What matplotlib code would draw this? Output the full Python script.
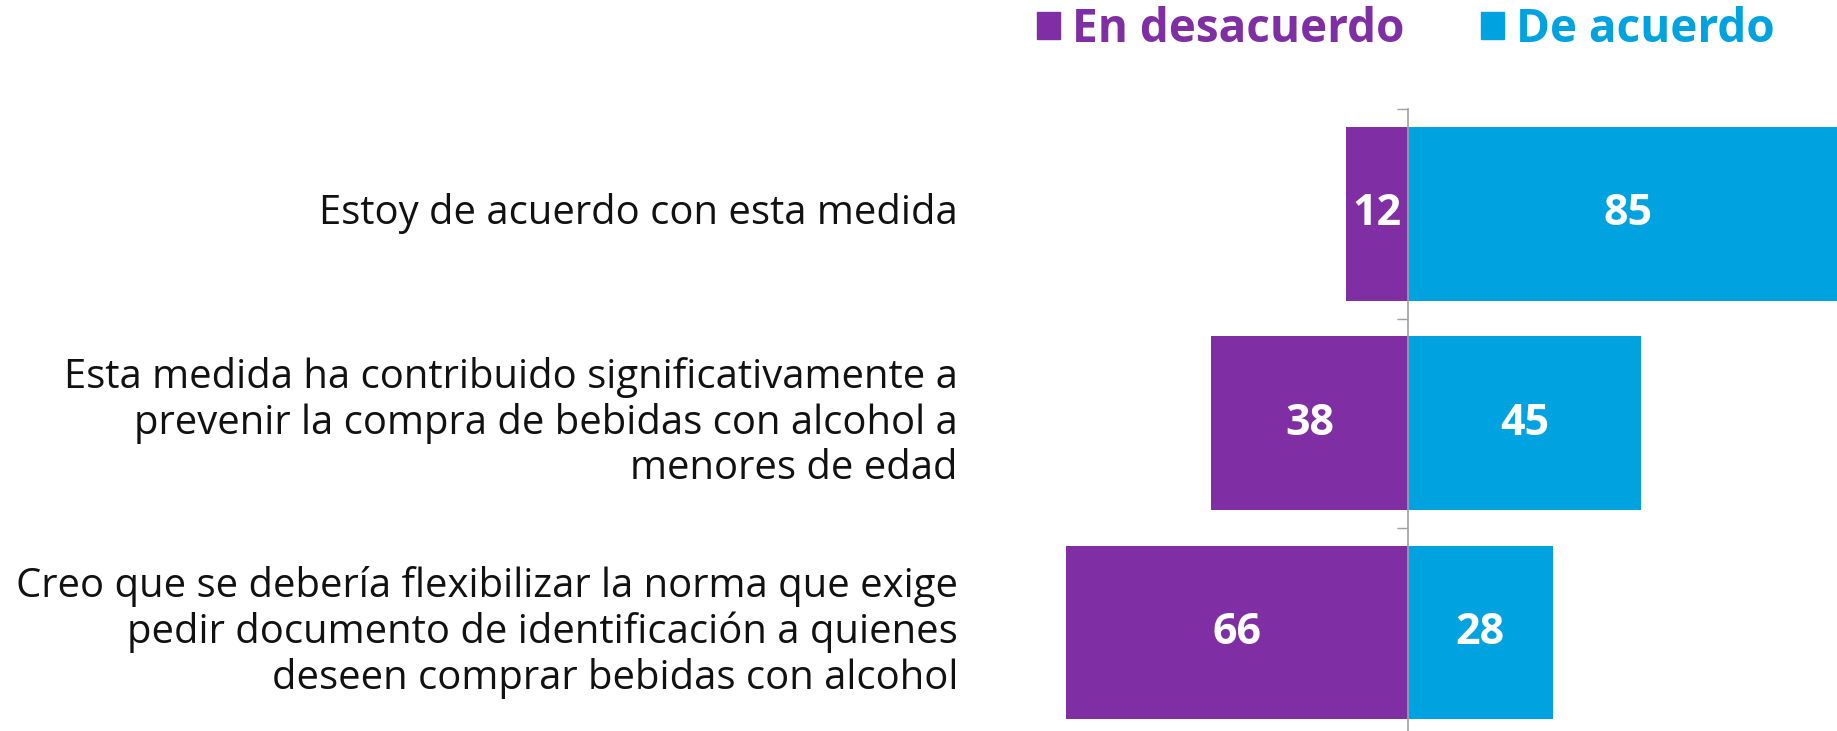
import matplotlib.pyplot as plt
from matplotlib.patches import Patch
from matplotlib.transforms import blended_transform_factory

categorias = [
    'Estoy de acuerdo con esta medida',
    'Esta medida ha contribuido significativamente a\nprevenir la compra de bebidas con alcohol a\nmenores de edad',
    'Creo que se debería flexibilizar la norma que exige\npedir documento de identificación a quienes\ndeseen comprar bebidas con alcohol',
]
en_desacuerdo = [12, 38, 66]
de_acuerdo = [85, 45, 28]
series = ['En desacuerdo', 'De acuerdo']

morado = '#7F2FA3'
azul = '#00A3E0'
gris = '#A0A0A0'

plt.rcParams['font.family'] = ['Open Sans', 'DejaVu Sans']

fig = plt.figure(figsize=(18.37, 7.31), dpi=100)
ax = fig.add_axes([0.5553, -0.0082, 0.4447, 0.8587])

pos = list(range(len(categorias)))
neg = [-v for v in en_desacuerdo]
ax.barh(pos, neg, height=0.83, color=morado)
ax.barh(pos, de_acuerdo, height=0.83, color=azul)

for i in pos:
    ax.text(neg[i] / 2, i, str(en_desacuerdo[i]), ha='center', va='center',
            color='white', fontsize=31, fontweight='bold')
    ax.text(de_acuerdo[i] / 2, i, str(de_acuerdo[i]), ha='center', va='center',
            color='white', fontsize=31, fontweight='bold', clip_on=False)

ax.set_xlim(-74.9, 82.9)
ax.set_ylim(len(categorias) - 0.5, -0.5)

# eje vertical en cero con marcas entre categorias
for s in ['top', 'right', 'bottom']:
    ax.spines[s].set_visible(False)
ax.spines['left'].set_position(('data', 0))
ax.spines['left'].set_color(gris)
ax.spines['left'].set_linewidth(1.2)
ax.set_xticks([])
ax.set_yticks([])
ax.set_yticks([p - 0.5 for p in pos] + [len(pos) - 0.5], minor=True)
ax.tick_params(axis='y', which='minor', length=8, width=1.0, color=gris, labelleft=False)

trans = blended_transform_factory(fig.transFigure, ax.transData)
for i, txt in enumerate(categorias):
    ax.text(958 / 1837, i, txt, transform=trans, ha='right', va='center',
            fontsize=28.8, color='#111111', linespacing=1.16, clip_on=False)

handles = [Patch(color=morado), Patch(color=azul)]
leg = fig.legend(handles, series, loc='upper right', bbox_to_anchor=(0.966, 0.992),
                 ncol=2, frameon=False, borderpad=0, borderaxespad=0,
                 handlelength=0.51, handleheight=0.51,
                 handletextpad=0.26, columnspacing=1.66,
                 prop={'size': 33, 'weight': 'bold'})
for t, c in zip(leg.get_texts(), [morado, azul]):
    t.set_color(c)

fig.savefig('out.png', dpi=100)
